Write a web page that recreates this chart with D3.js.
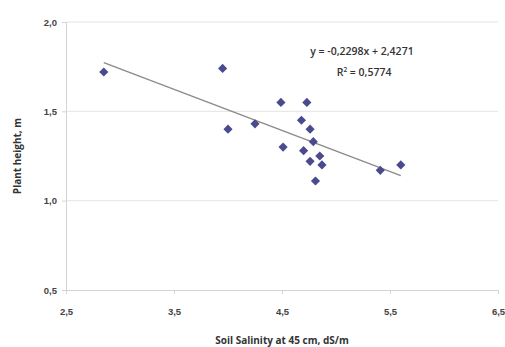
<!DOCTYPE html>
<html>
<head>
<meta charset="utf-8">
<script src="https://cdn.jsdelivr.net/npm/d3@7"></script>
<style>
  body { margin: 0; background: #fff; }
  svg { display: block; font-family: "Open Sans", "Liberation Sans", sans-serif; }
</style>
</head>
<body>
<svg id="chart" width="505" height="347"></svg>
<script>
// Soil salinity (dS/m) vs plant height (m)
const salinity = [2.85, 3.95, 4.0, 4.25, 4.49, 4.51, 4.73, 4.68, 4.76, 4.79, 4.70, 4.85, 4.76, 4.87, 4.81, 5.41, 5.60];
const height   = [1.72, 1.74, 1.40, 1.43, 1.55, 1.30, 1.55, 1.45, 1.40, 1.33, 1.28, 1.25, 1.22, 1.20, 1.11, 1.17, 1.20];
const xTicks = [2.5, 3.5, 4.5, 5.5, 6.5];
const yTicks = [0.5, 1.0, 1.5, 2.0];
const slope = -0.2298, intercept = 2.4271, r2 = 0.5774;

const svg = d3.select('#chart');
const margin = { top: 22, right: 7, bottom: 57, left: 66 };
const width = 505 - margin.left - margin.right;
const height_ = 347 - margin.top - margin.bottom;

const x = d3.scaleLinear().domain([2.5, 6.5]).range([0, width]);
const y = d3.scaleLinear().domain([0.5, 2.0]).range([height_, 0]);
const fmt = d => d3.format('.1f')(d).replace('.', ',');

const g = svg.append('g').attr('transform', `translate(${margin.left},${margin.top})`);

// Grid lines
g.selectAll('line.grid').data(yTicks.filter(t => t > 0.5)).enter()
  .append('line')
  .attr('x1', 0).attr('x2', width)
  .attr('y1', d => y(d)).attr('y2', d => y(d))
  .attr('stroke', '#e4e4e4').attr('stroke-width', 1);

// Axes
const xAxis = g.append('g').attr('transform', `translate(0,${height_})`)
  .call(d3.axisBottom(x).tickValues(xTicks).tickFormat(fmt).tickSize(4).tickPadding(14));
const yAxis = g.append('g')
  .call(d3.axisLeft(y).tickValues(yTicks).tickFormat(fmt).tickSize(4).tickPadding(5));
[xAxis, yAxis].forEach(a => {
  a.select('.domain').attr('stroke', '#d4d4d4');
  a.selectAll('.tick line').attr('stroke', '#d4d4d4');
  a.selectAll('.tick text').attr('fill', '#444').attr('font-size', 9.5).attr('font-weight', 'bold');
});

// Trend line over data range
const xMin = d3.min(salinity), xMax = d3.max(salinity);
g.append('line')
  .attr('x1', x(xMin)).attr('y1', y(slope * xMin + intercept))
  .attr('x2', x(xMax)).attr('y2', y(slope * xMax + intercept))
  .attr('stroke', '#8a8a8a').attr('stroke-width', 1.3);

// Points (rotated squares, like Excel diamonds)
g.selectAll('path.point').data(salinity).enter()
  .append('path')
  .attr('class', 'point')
  .attr('d', d3.symbol().type(d3.symbolSquare).size(42))
  .attr('transform', (d, i) => `translate(${x(d)},${y(height[i])}) rotate(45)`)
  .attr('fill', '#4a4a8e');

// Equation
const eq = g.append('text').attr('text-anchor', 'middle')
  .attr('fill', '#333').attr('font-size', 10.5).attr('font-weight', 600)
  .attr('x', x(5.24)).attr('y', y(1.815));
eq.append('tspan').text(`y = ${String(slope).replace('.', ',')}x + ${String(intercept).replace('.', ',')}`);
const r = g.append('text').attr('text-anchor', 'middle')
  .attr('fill', '#333').attr('font-size', 10.5).attr('font-weight', 600)
  .attr('x', x(5.26)).attr('y', y(1.695));
r.append('tspan').text('R');
r.append('tspan').attr('font-size', 6.5).attr('dy', -4).text('2');
r.append('tspan').attr('dy', 4).text(` = ${String(r2).replace('.', ',')}`);

// Axis titles
svg.append('text').attr('text-anchor', 'middle')
  .attr('x', margin.left + x(4.5)).attr('y', 344)
  .attr('fill', '#333').attr('font-size', 10).attr('font-weight', 'bold')
  .text('Soil Salinity at 45 cm, dS/m');
svg.append('text').attr('text-anchor', 'middle')
  .attr('transform', `translate(21,${margin.top + y(1.25)}) rotate(-90)`)
  .attr('fill', '#333').attr('font-size', 10).attr('font-weight', 'bold')
  .text('Plant height, m');
</script>
</body>
</html>
